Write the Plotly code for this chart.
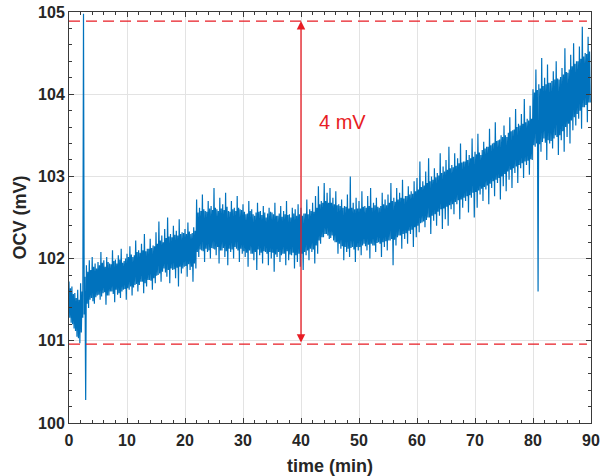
import plotly.graph_objects as go

# four samples per half minute: a (t), b (t+0.125), c (t+0.25), d (t+0.375)
t_base = [i * 0.5 for i in range(180)]

ocv_a = [
    101.72, 101.66, 101.58, 101.62, 101.70, 104.98, 101.92, 101.98, 102.02, 101.94,
    101.96, 102.08, 101.98, 102.02, 101.94, 102.10, 101.99, 102.04, 102.12, 101.97,
    102.06, 102.15, 102.02, 102.22, 102.10, 102.18, 102.30, 102.12, 102.24, 102.16,
    102.32, 102.45, 102.28, 102.36, 102.50, 102.30, 102.40, 102.34, 102.48, 102.32,
    102.36, 102.44, 102.30, 102.38, 102.72, 102.62, 102.78, 102.58, 102.70, 102.64,
    102.86, 102.60, 102.74, 102.66, 102.80, 102.58, 102.70, 102.62, 102.76, 102.60,
    102.66, 102.54, 102.70, 102.60, 102.52, 102.68, 102.58, 102.64, 102.50, 102.62,
    102.56, 102.68, 102.52, 102.64, 102.58, 102.70, 102.54, 102.62, 102.60, 102.66,
    102.62, 102.55, 102.72, 102.60, 102.68, 102.76, 102.88, 102.70, 102.92, 102.80,
    102.86, 102.74, 102.82, 102.66, 102.72, 102.64, 102.78, 103.00, 102.68, 102.74,
    102.70, 102.82, 102.64, 102.76, 102.86, 102.68, 102.74, 102.62, 102.80, 102.72,
    102.78, 102.92, 102.74, 102.86, 102.80, 102.96, 102.76, 102.88, 102.82, 102.94,
    102.98, 103.18, 102.94, 103.06, 103.22, 103.00, 103.10, 103.04, 103.28, 103.12,
    103.20, 103.36, 103.14, 103.28, 103.22, 103.40, 103.18, 103.32, 103.26, 103.46,
    103.30, 103.52, 103.26, 103.42, 103.36, 103.58, 103.40, 103.66, 103.44, 103.50,
    103.62, 103.48, 103.72, 103.56, 103.82, 103.64, 103.76, 103.94, 103.70, 103.86,
    104.06, 104.30, 104.12, 104.44, 104.20, 104.36, 104.14, 104.28, 104.40, 104.18,
    104.32, 104.56, 104.26, 104.48, 104.62, 104.40, 104.58, 104.82, 104.50, 104.70,
]

ocv_b = [
    101.28, 101.20, 101.12, 101.03, 101.10, 101.32, 101.45, 101.50, 101.48, 101.53,
    101.56, 101.54, 101.59, 101.55, 101.60, 101.57, 101.62, 101.58, 101.60, 101.63,
    101.64, 101.66, 101.65, 101.69, 101.68, 101.72, 101.70, 101.74, 101.73, 101.76,
    101.79, 101.82, 101.84, 101.83, 101.86, 101.88, 101.87, 101.89, 101.90, 101.88,
    101.91, 101.93, 101.90, 101.94, 102.08, 102.11, 102.09, 102.12, 102.10, 102.13,
    102.11, 102.14, 102.10, 102.13, 102.09, 102.12, 102.11, 102.14, 102.10, 102.12,
    102.09, 102.07, 102.10, 102.06, 102.08, 102.11, 102.07, 102.09, 102.06, 102.08,
    102.07, 102.05, 102.08, 102.04, 102.06, 102.09, 102.05, 102.07, 102.04, 102.06,
    102.06, 102.08, 102.10, 102.12, 102.11, 102.16, 102.22, 102.26, 102.30, 102.28,
    102.25, 102.22, 102.20, 102.18, 102.15, 102.14, 102.12, 102.13, 102.11, 102.14,
    102.14, 102.16, 102.15, 102.17, 102.18, 102.16, 102.19, 102.18, 102.20, 102.21,
    102.22, 102.24, 102.23, 102.26, 102.28, 102.30, 102.31, 102.34, 102.35, 102.38,
    102.40, 102.43, 102.45, 102.47, 102.50, 102.52, 102.54, 102.57, 102.60, 102.61,
    102.63, 102.65, 102.66, 102.69, 102.71, 102.72, 102.74, 102.76, 102.77, 102.80,
    102.81, 102.83, 102.85, 102.87, 102.89, 102.91, 102.94, 102.96, 102.98, 103.00,
    103.03, 103.06, 103.08, 103.10, 103.12, 103.14, 103.16, 103.18, 103.19, 103.21,
    103.38, 103.40, 103.39, 103.42, 103.41, 103.44, 103.43, 103.46, 103.48, 103.50,
    103.55, 103.60, 103.64, 103.68, 103.72, 103.76, 103.80, 103.84, 103.87, 103.90,
]

ocv_c = [
    101.64, 101.57, 101.52, 101.50, 101.60, 101.78, 101.84, 101.86, 101.90, 101.88,
    101.92, 101.95, 101.90, 101.96, 101.93, 101.97, 101.94, 101.99, 101.95, 102.00,
    102.02, 102.05, 102.04, 102.08, 102.07, 102.10, 102.09, 102.12, 102.13, 102.15,
    102.18, 102.22, 102.20, 102.25, 102.27, 102.26, 102.29, 102.28, 102.30, 102.31,
    102.30, 102.33, 102.31, 102.34, 102.56, 102.58, 102.60, 102.57, 102.61, 102.59,
    102.62, 102.58, 102.61, 102.59, 102.63, 102.57, 102.60, 102.58, 102.62, 102.59,
    102.57, 102.55, 102.58, 102.54, 102.56, 102.57, 102.53, 102.56, 102.55, 102.57,
    102.54, 102.52, 102.55, 102.51, 102.54, 102.53, 102.50, 102.55, 102.52, 102.54,
    102.52, 102.55, 102.54, 102.58, 102.57, 102.62, 102.66, 102.68, 102.70, 102.68,
    102.68, 102.66, 102.65, 102.64, 102.62, 102.63, 102.61, 102.62, 102.60, 102.61,
    102.61, 102.63, 102.62, 102.64, 102.62, 102.65, 102.63, 102.64, 102.66, 102.65,
    102.68, 102.70, 102.69, 102.72, 102.74, 102.73, 102.76, 102.78, 102.79, 102.82,
    102.84, 102.87, 102.89, 102.92, 102.94, 102.96, 102.99, 103.01, 103.04, 103.06,
    103.08, 103.10, 103.11, 103.13, 103.16, 103.17, 103.18, 103.20, 103.22, 103.24,
    103.27, 103.29, 103.32, 103.34, 103.36, 103.38, 103.41, 103.43, 103.45, 103.48,
    103.50, 103.53, 103.55, 103.57, 103.60, 103.62, 103.64, 103.66, 103.68, 103.70,
    104.02, 104.05, 104.07, 104.10, 104.12, 104.14, 104.16, 104.18, 104.19, 104.21,
    104.24, 104.27, 104.30, 104.34, 104.37, 104.40, 104.43, 104.46, 104.49, 104.52,
]

ocv_d = [
    101.22, 101.15, 101.05, 100.97, 101.28, 100.28, 101.40, 101.52, 101.45, 101.55,
    101.50, 101.58, 101.44, 101.55, 101.60, 101.47, 101.56, 101.52, 101.62, 101.50,
    101.62, 101.55, 101.68, 101.60, 101.72, 101.58, 101.66, 101.74, 101.62, 101.70,
    101.80, 101.72, 101.88, 101.78, 101.70, 101.86, 101.76, 101.66, 101.82, 101.90,
    101.78, 101.86, 101.72, 101.88, 102.02, 102.10, 101.96, 102.08, 102.00, 102.12,
    102.04, 101.94, 102.10, 102.02, 101.92, 102.08, 102.00, 102.12, 101.96, 102.06,
    102.02, 101.90, 102.06, 101.98, 101.86, 102.04, 101.94, 102.08, 101.92, 102.00,
    101.84, 102.02, 101.96, 102.06, 101.92, 101.98, 102.04, 101.88, 101.96, 101.90,
    101.86, 102.04, 101.98, 102.08, 101.94, 102.06, 102.18, 102.26, 102.30, 102.24,
    102.28, 102.20, 102.06, 102.12, 101.98, 102.08, 102.02, 102.14, 101.96, 102.10,
    102.04, 102.18, 102.10, 102.00, 102.16, 102.08, 102.20, 102.02, 102.14, 102.10,
    102.22, 101.92, 102.16, 102.28, 102.12, 102.24, 102.18, 102.30, 102.14, 102.26,
    102.32, 102.44, 102.38, 102.50, 102.30, 102.46, 102.40, 102.52, 102.36, 102.48,
    102.40, 102.60, 102.54, 102.66, 102.48, 102.62, 102.70, 102.56, 102.74, 102.50,
    102.62, 102.78, 102.70, 102.84, 102.66, 102.86, 102.76, 102.92, 102.72, 102.88,
    102.82, 102.96, 102.86, 103.04, 102.92, 103.10, 102.98, 103.14, 103.02, 103.20,
    103.36, 101.60, 103.30, 103.46, 103.20, 103.40, 103.34, 103.50, 103.26, 103.44,
    103.30, 103.48, 103.40, 103.56, 103.62, 103.70, 103.58, 103.84, 103.66, 103.90,
]

# reference levels and span
t_range = [0, 89.3]
level_top = 104.89
level_bottom = 100.96
arrow_t = 40
label_text = "4 mV"
label_t = 47.2
label_v = 103.66

x_ticks = [0, 10, 20, 30, 40, 50, 60, 70, 80, 90]
y_ticks = [100, 101, 102, 103, 104, 105]

# merge into one time series
sub_offsets = [0, 0.125, 0.25, 0.375]
t_all, v_all = [], []
for i, t0 in enumerate(t_base):
    for off, series in zip(sub_offsets, (ocv_a, ocv_b, ocv_c, ocv_d)):
        t_all.append(t0 + off)
        v_all.append(series[i])

blue = "#0072BD"
red = "#E81C24"
fig = go.Figure()
fig.add_trace(go.Scatter(x=t_all, y=v_all, mode="lines",
                         line=dict(color=blue, width=1.2), showlegend=False))
for lv in (level_top, level_bottom):
    fig.add_trace(go.Scatter(x=t_range, y=[lv, lv], mode="lines",
                             line=dict(color=red, width=1.3, dash="11px,6px"),
                             showlegend=False))

fig.add_annotation(x=arrow_t, y=level_top, ax=arrow_t, ay=level_bottom,
                   xref="x", yref="y", axref="x", ayref="y", text="",
                   showarrow=True, arrowhead=2, arrowside="end+start",
                   arrowsize=1.3, arrowwidth=1.3, arrowcolor=red)
fig.add_annotation(x=label_t, y=label_v, xref="x", yref="y", text=label_text,
                   showarrow=False, font=dict(family="Liberation Sans", size=20, color=red))

axis_common = dict(
    showline=True, linecolor="#3a3a3a", linewidth=1, mirror="ticks",
    ticks="inside", ticklen=5, tickcolor="#3a3a3a", tickwidth=1,
    showgrid=True, gridcolor="#e3e3e3", gridwidth=1, zeroline=False,
    tickfont=dict(family="Liberation Sans", size=16, color="#262626", weight="bold"),
)
fig.update_xaxes(range=[0, 90], tickvals=x_ticks, ticklabelstandoff=3,
                 minor=dict(dtick=2, ticks="inside", ticklen=3, tickcolor="#3a3a3a", showgrid=False),
                 title=dict(text="time (min)", standoff=12,
                            font=dict(family="Liberation Sans", size=18, color="#262626", weight="bold")),
                 **axis_common)
fig.update_yaxes(range=[100, 105], tickvals=y_ticks,
                 minor=dict(dtick=0.2, ticks="inside", ticklen=3, tickcolor="#3a3a3a", showgrid=False),
                 title=dict(text="OCV (mV)", standoff=6,
                            font=dict(family="Liberation Sans", size=18, color="#262626", weight="bold")),
                 **axis_common)

fig.update_layout(width=600, height=476, margin=dict(l=69, r=9, t=12, b=53, autoexpand=False),
                  plot_bgcolor="white", paper_bgcolor="white")
fig.write_html("out.html", config={"displayModeBar": False},
               post_script="document.body.style.margin='0';")
